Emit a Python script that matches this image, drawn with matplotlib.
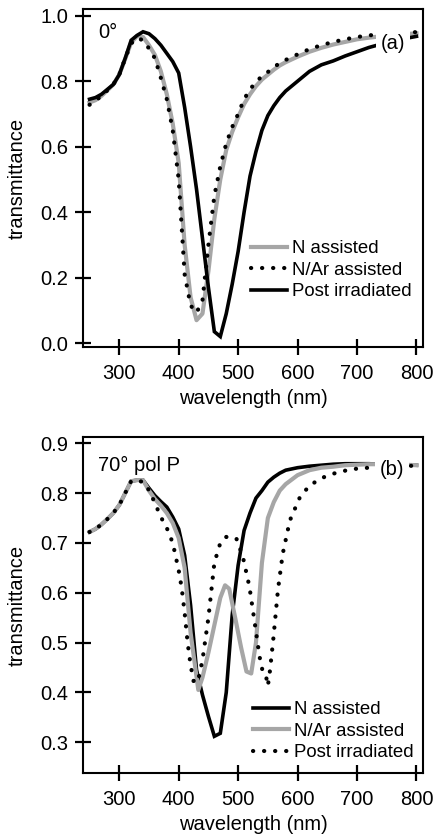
import matplotlib
matplotlib.use("Agg")
import matplotlib.pyplot as plt

plt.rcParams['font.family'] = ['Liberation Sans', 'DejaVu Sans']

# ---------------- Panel (a): 0 deg ----------------
wl_a = [250, 260, 270, 280, 290, 300, 310, 320, 330, 340, 350, 360, 370, 380, 390,
        400, 410, 420, 430, 440, 450, 460, 470, 480, 490, 500, 510, 520, 530, 540,
        550, 560, 570, 580, 600, 620, 640, 660, 680, 700, 720, 740, 760, 780, 800]

a_n_assisted = [0.735, 0.742, 0.755, 0.772, 0.79, 0.82, 0.868, 0.918, 0.938, 0.935,
                0.91, 0.88, 0.83, 0.76, 0.67, 0.55, 0.30, 0.14, 0.07, 0.09,
                0.22, 0.38, 0.50, 0.59, 0.645, 0.69, 0.73, 0.76, 0.785, 0.805,
                0.82, 0.835, 0.848, 0.858, 0.875, 0.89, 0.902, 0.912, 0.92, 0.928,
                0.933, 0.937, 0.941, 0.944, 0.946]

a_nar_assisted = [0.728, 0.74, 0.755, 0.772, 0.79, 0.82, 0.87, 0.915, 0.932, 0.925,
                  0.90, 0.87, 0.81, 0.745, 0.65, 0.50, 0.21, 0.115, 0.093, 0.13,
                  0.30, 0.45, 0.54, 0.61, 0.66, 0.70, 0.745, 0.775, 0.798, 0.815,
                  0.828, 0.843, 0.855, 0.865, 0.882, 0.898, 0.91, 0.92, 0.928, 0.935,
                  0.94, 0.943, 0.946, 0.948, 0.95]

a_post_irr = [0.745, 0.750, 0.760, 0.775, 0.79, 0.82, 0.87, 0.925, 0.94, 0.951,
              0.945, 0.93, 0.91, 0.885, 0.86, 0.825, 0.72, 0.60, 0.47, 0.32,
              0.17, 0.035, 0.02, 0.09, 0.18, 0.28, 0.40, 0.51, 0.585, 0.65,
              0.695, 0.725, 0.75, 0.77, 0.80, 0.83, 0.85, 0.862, 0.877, 0.89,
              0.903, 0.913, 0.922, 0.93, 0.937]

# ---------------- Panel (b): 70 deg pol P ----------------
wl_b_n = [250, 260, 270, 280, 290, 300, 310, 320, 330, 340, 350, 360, 370, 380, 390,
          400, 410, 420, 430, 440, 450, 460, 470, 480, 490, 500, 510, 520, 530, 540,
          550, 560, 570, 580, 600, 620, 640, 660, 680, 700, 720, 740, 760, 780, 800]
b_n_assisted = [0.722, 0.728, 0.737, 0.748, 0.76, 0.776, 0.80, 0.824, 0.826, 0.826,
                0.81, 0.795, 0.783, 0.772, 0.752, 0.728, 0.675, 0.575, 0.445, 0.395,
                0.352, 0.312, 0.318, 0.40, 0.555, 0.655, 0.725, 0.76, 0.79, 0.805,
                0.822, 0.832, 0.84, 0.846, 0.851, 0.854, 0.856, 0.858, 0.859, 0.859,
                0.859, 0.858, 0.858, 0.857, 0.856]

wl_b_nar = [250, 260, 270, 280, 290, 300, 310, 320, 330, 340, 350, 360, 370, 380, 390,
            400, 410, 420, 433, 440, 450, 460, 470, 478, 485, 495, 505, 514, 522, 530,
            540, 550, 560, 570, 580, 600, 620, 640, 660, 680, 700, 720, 740, 760, 780, 800]
b_nar_assisted = [0.722, 0.728, 0.737, 0.748, 0.76, 0.776, 0.80, 0.824, 0.826, 0.826,
                  0.805, 0.788, 0.775, 0.76, 0.74, 0.71, 0.65, 0.52, 0.405, 0.43,
                  0.48, 0.535, 0.59, 0.615, 0.608, 0.55, 0.49, 0.442, 0.438, 0.50,
                  0.66, 0.75, 0.782, 0.805, 0.818, 0.836, 0.846, 0.851, 0.853, 0.856,
                  0.857, 0.858, 0.858, 0.857, 0.857, 0.856]

wl_b_post = [250, 260, 270, 280, 290, 300, 310, 320, 330, 340, 350, 360, 370, 380, 390,
             400, 405, 410, 415, 420, 425, 432, 440, 450, 460, 470, 480, 490, 497, 508,
             519, 528, 536, 542, 547, 550, 553, 559, 567, 575, 587, 604, 620, 640, 660,
             690, 720, 760, 800]
b_post_irr = [0.722, 0.728, 0.737, 0.748, 0.76, 0.776, 0.80, 0.824, 0.826, 0.822,
              0.806, 0.78, 0.752, 0.73, 0.70, 0.645, 0.61, 0.56, 0.50, 0.455,
              0.423, 0.42, 0.465, 0.55, 0.66, 0.70, 0.712, 0.712, 0.709, 0.672,
              0.612, 0.539, 0.472, 0.438, 0.432, 0.413, 0.438, 0.505, 0.606, 0.678,
              0.745, 0.792, 0.815, 0.83, 0.839, 0.848, 0.851, 0.854, 0.855]

labels_a = ["N assisted", "N/Ar assisted", "Post irradiated"]
labels_b = ["N assisted", "N/Ar assisted", "Post irradiated"]
xticks = [300, 400, 500, 600, 700, 800]

GREY = '#a6a6a6'
LW = 2.6
solid_black = dict(color='black', lw=LW, solid_joinstyle='miter')
solid_grey = dict(color=GREY, lw=LW + 0.4)
dotted = dict(color='black', lw=LW + 0.4, linestyle=(0, (0.05, 2.6)),
              dash_capstyle='round')

fig = plt.figure(figsize=(4.35, 8.35), dpi=100)
ax1 = fig.add_axes([0.1908, 0.5844, 0.7816, 0.4048])
ax2 = fig.add_axes([0.1908, 0.0743, 0.7816, 0.4024])

FS = 14.5
LFS = 13.4


def style(ax, yticks, ylim):
    ax.set_xlim(239, 811)
    ax.set_ylim(*ylim)
    ax.set_xticks(xticks)
    ax.set_yticks(yticks)
    ax.set_yticklabels([f"{v:.1f}" for v in yticks])
    ax.tick_params(direction='inout', length=11, width=1.6, labelsize=FS,
                   colors='black')
    ax.tick_params(axis='x', pad=7)
    ax.tick_params(axis='y', pad=5)
    for s in ax.spines.values():
        s.set_linewidth(1.5)
        s.set_color('black')
    ax.set_xlabel("wavelength (nm)", fontsize=FS, labelpad=4)
    ax.set_ylabel("transmittance", fontsize=FS)
    ax.yaxis.set_label_coords(-0.165, 0.5)


leg_kw = dict(loc='upper left', frameon=False, fontsize=LFS,
              handlelength=1.95, handletextpad=0.28, labelspacing=0.24,
              borderpad=0, borderaxespad=0)

# Panel (a)
l_na, = ax1.plot(wl_a, a_n_assisted, **solid_grey)
l_nar, = ax1.plot(wl_a, a_nar_assisted, **dotted)
l_post, = ax1.plot(wl_a, a_post_irr, **solid_black)
style(ax1, [0.0, 0.2, 0.4, 0.6, 0.8, 1.0], (-0.012, 1.0205))
ax1.legend([l_na, l_nar, l_post], labels_a, bbox_to_anchor=(0.494, 0.316),
           **leg_kw)
ax1.text(0.045, 0.932, "0°", transform=ax1.transAxes, fontsize=FS,
         ha='left', va='center')
ax1.text(0.912, 0.899, "(a)", transform=ax1.transAxes, fontsize=FS,
         ha='center', va='center',
         bbox=dict(facecolor='white', edgecolor='none', pad=3.5))

# Panel (b)
m_n, = ax2.plot(wl_b_n, b_n_assisted, **solid_black)
m_nar, = ax2.plot(wl_b_nar, b_nar_assisted, **solid_grey)
m_post, = ax2.plot(wl_b_post, b_post_irr, **dotted)
style(ax2, [0.3, 0.4, 0.5, 0.6, 0.7, 0.8, 0.9], (0.2384, 0.9127))
ax2.legend([m_n, m_nar, m_post], labels_b, bbox_to_anchor=(0.499, 0.214),
           **leg_kw)
ax2.text(0.045, 0.915, "70° pol P", transform=ax2.transAxes, fontsize=FS,
         ha='left', va='center')
ax2.text(0.909, 0.902, "(b)", transform=ax2.transAxes, fontsize=FS,
         ha='center', va='center',
         bbox=dict(facecolor='white', edgecolor='none', pad=3.5))

fig.savefig("out.png", dpi=100)
